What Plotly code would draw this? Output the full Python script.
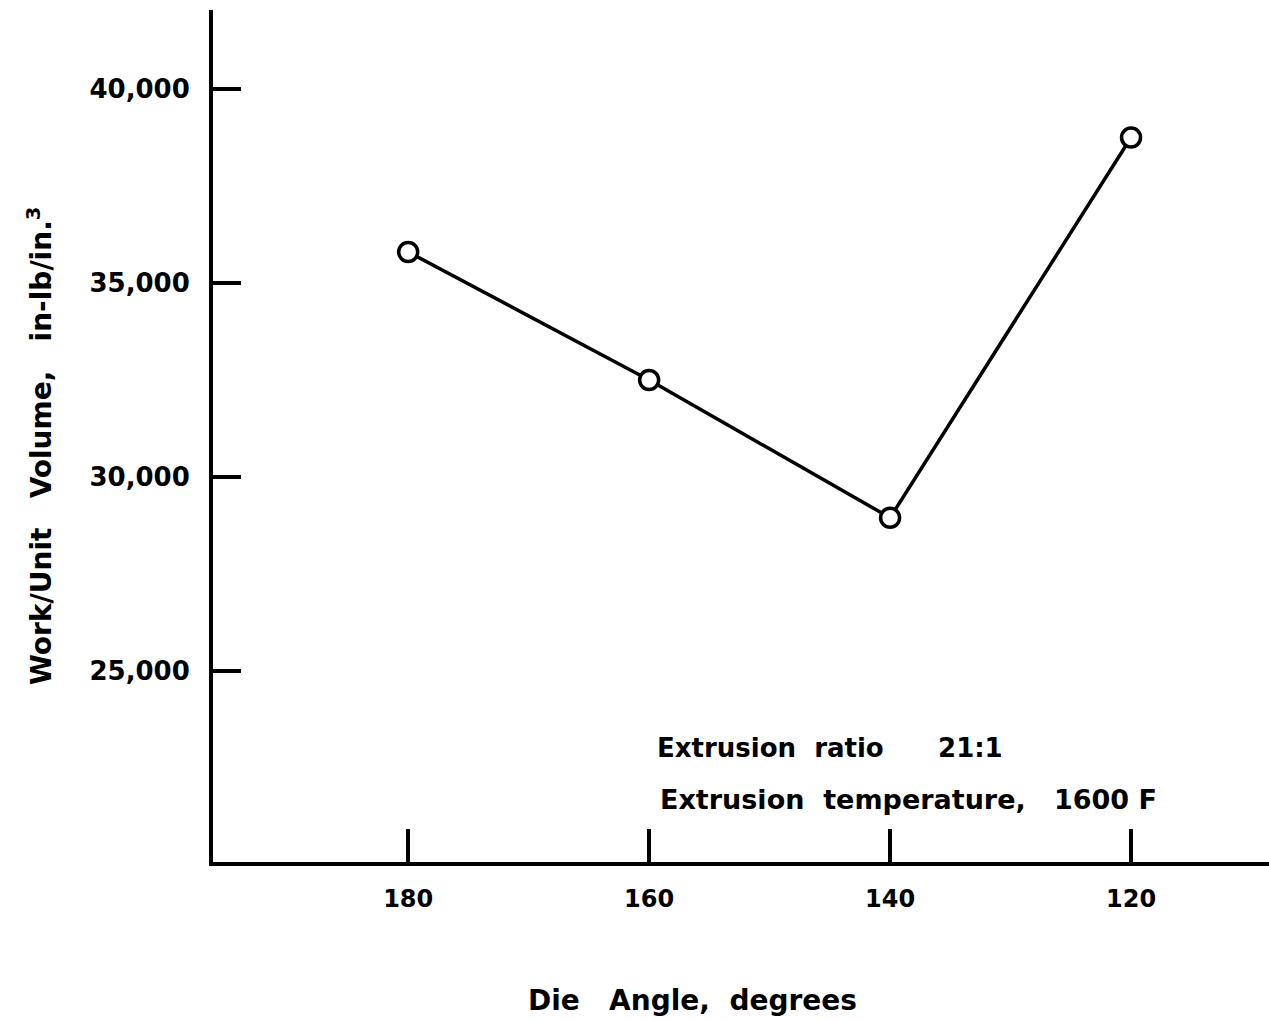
import plotly.graph_objects as go

die_angle = [180, 160, 140, 120]
work_per_volume = [35800, 32500, 28950, 38750]
x_ticks = [180, 160, 140, 120]
y_ticks = [25000, 30000, 35000, 40000]
y_tick_labels = ["25,000", "30,000", "35,000", "40,000"]

FONT = "DejaVu Sans"

fig = go.Figure()
fig.add_trace(go.Scatter(
    x=die_angle, y=work_per_volume, mode="lines+markers",
    line=dict(color="black", width=3.5),
    marker=dict(symbol="circle", size=19, color="white",
                line=dict(color="black", width=3.5)),
    showlegend=False, cliponaxis=False,
))

fig.update_layout(
    width=1269, height=1021,
    margin=dict(l=213, r=0, t=10, b=159),
    paper_bgcolor="white", plot_bgcolor="white",
    font=dict(family=FONT, color="black"),
    xaxis=dict(
        range=[196.2, 108.55], tickvals=x_ticks,
        ticktext=[str(v) for v in x_ticks],
        ticks="inside", ticklen=33, tickwidth=4, tickcolor="black",
        showline=True, linewidth=4, linecolor="black",
        showgrid=False, zeroline=False,
        ticklabelstandoff=12,
        tickfont=dict(family=FONT, size=24, color="black", weight="bold"),
    ),
    yaxis=dict(
        range=[20077, 42036], tickvals=y_ticks, ticktext=y_tick_labels,
        ticks="inside", ticklen=28, tickwidth=4, tickcolor="black",
        showline=True, linewidth=4, linecolor="black",
        showgrid=False, zeroline=False,
        ticklabelstandoff=14,
        tickfont=dict(family=FONT, size=26, color="black", weight="bold"),
    ),
    annotations=[
        dict(text="Work/Unit   Volume,   in-lb/in.<sup>3</sup>", xref="paper", yref="paper",
             x=-0.164, y=0.488, textangle=-90, showarrow=False,
             xanchor="center", yanchor="middle",
             font=dict(family=FONT, size=28, color="black", weight="bold")),
        dict(text="Die   Angle,  degrees", xref="paper", yref="paper",
             x=0.4536, y=-0.162, showarrow=False,
             xanchor="center", yanchor="middle",
             font=dict(family=FONT, size=28, color="black", weight="bold")),
        dict(text="Extrusion  ratio      21:1", xref="paper", yref="paper",
             x=0.4186, y=0.1338, showarrow=False,
             xanchor="left", yanchor="middle",
             font=dict(family=FONT, size=26, color="black", weight="bold")),
        dict(text="Extrusion  temperature,   1600 F", xref="paper", yref="paper",
             x=0.4214, y=0.0728, showarrow=False,
             xanchor="left", yanchor="middle",
             font=dict(family=FONT, size=27, color="black", weight="bold")),
    ],
)

fig.write_html("out.html")
